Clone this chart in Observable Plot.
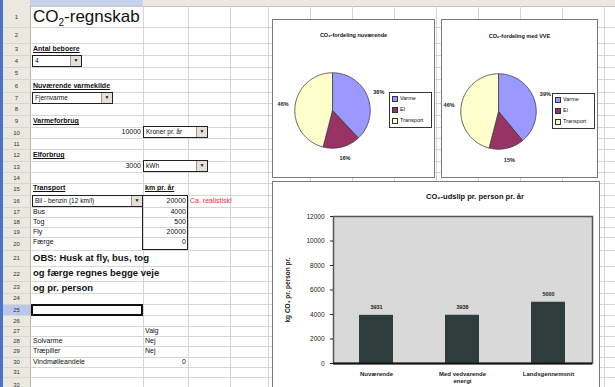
<!DOCTYPE html>
<html><head><meta charset="utf-8">
<script src="https://cdn.jsdelivr.net/npm/d3@7"></script>
<script src="https://cdn.jsdelivr.net/npm/@observablehq/plot@0.6"></script>
<style>
body{margin:0;background:#fff;font-family:"Liberation Sans",Arial,sans-serif;color:#111;}
#page{position:relative;width:615px;height:387px;overflow:hidden;background:#fff;}
.a{position:absolute;white-space:nowrap;}
.t{font-size:7px;line-height:12px;height:12px;}
.b{font-weight:bold;}
.u{text-decoration:underline;}
.dd{border:1.5px solid #222;background:#fff;box-sizing:border-box;font-size:6.5px;line-height:9px;padding-left:2px;}
.dd .btn{position:absolute;right:0;top:0;bottom:0;width:10px;background:#e4e2d8;border-left:1px solid #999;font-size:5px;text-align:center;line-height:9px;}
.box{background:#fff;border:1px solid #7a7a7a;box-sizing:border-box;}
.leg{border:1px solid #333;background:#fff;box-sizing:border-box;font-size:5.5px;line-height:11px;padding-left:2px;}
.sw{display:inline-block;width:4px;height:4px;border:0.6px solid #333;margin-right:2px;vertical-align:middle;}
</style></head><body><div id="page"></div>
<script>
// ---------- chart data ----------
const barCategories = ["Nuværende", "Med vedvarende\nenergi", "Landsgennemsnit"];
const barValues = [3931, 3938, 5000];
const yTicks = [0, 2000, 4000, 6000, 8000, 10000, 12000];
const pieLabels = ["Varme", "El", "Transport"];
const pie1Values = [38, 16, 46];
const pie2Values = [39, 15, 46];
const pieTitles = ["CO₂-fordeling nuværende", "CO₂-fordeling med VVE"];
const barTitle = "CO₂-udslip pr. person pr. år";
const yLabel = "kg CO₂ pr. person pr.";

const pieColorRange = ["#9999ff", "#993366", "#ffffcc"];
const page = document.getElementById("page");
function el(html){ const d=document.createElement("div"); d.innerHTML=html; const n=d.firstElementChild; page.appendChild(n); return n; }

// ---------- spreadsheet background ----------
const rowCenters = [17,37,49,61,72,86,98,108,121,132,143,155,166,177,188,201,212,222,232,242,258,273,288,298,309,320,331,341,351,362,372,382];
const bounds = [6];
for (let i=0;i<rowCenters.length-1;i++) bounds.push((rowCenters[i]+rowCenters[i+1])/2);
bounds.push(392);
el(`<div class="a" style="left:0;top:0;width:615px;height:6px;background:#ebe9df;border-bottom:1px solid #c9c6b8"></div>`);
el(`<div class="a" style="left:30px;top:0;width:113px;height:6px;background:#c5d3ef"></div>`);
el(`<div class="a" style="left:3px;top:6px;width:27px;height:390px;background:#ebe9df;border-right:1px solid #b9b6a8"></div>`);
el(`<div class="a" style="left:0;top:0;width:3px;height:387px;background:#4a74c8"></div>`);
bounds.forEach((b,i)=>{ if(i>0) el(`<div class="a" style="left:3px;top:${b}px;width:612px;height:1px;background:#d6d6d6"></div>`); });
[143,188,230,268,310,352,394,436,478,520,562,604].forEach(x=> el(`<div class="a" style="left:${x}px;top:6px;width:1px;height:381px;background:#d6d6d6"></div>`));
rowCenters.forEach((c,i)=>{
  const hi = i===24 ? "background:#b8c9ec;" : "";
  el(`<div class="a t" style="left:3px;top:${bounds[i]+1}px;width:27px;height:${bounds[i+1]-bounds[i]-1}px;line-height:${bounds[i+1]-bounds[i]-1}px;text-align:center;font-size:6px;color:#333;${hi}">${i+1}</div>`);
});
function txt(row, x, s, cls="", extra=""){ const c=rowCenters[row-1]; el(`<div class="a t ${cls}" style="left:${x}px;top:${c-6}px;${extra}">${s}</div>`); }
function rtxt(row, xr, s, cls="", extra=""){ const c=rowCenters[row-1]; el(`<div class="a t ${cls}" style="left:${xr-60}px;width:58px;text-align:right;top:${c-6}px;${extra}">${s}</div>`); }
function dd(row, x0, x1, s){ const c=rowCenters[row-1]; el(`<div class="a dd" style="left:${x0}px;top:${c-6}px;width:${x1-x0}px;height:12px;">${s}<div class="btn">▼</div></div>`); }

txt(1, 33, "CO<sub style='font-size:10px'>2</sub>-regnskab", "", "font-size:17px;line-height:22px;height:22px;top:6px;");
txt(3, 33, "Antal beboere", "b u");
dd(4, 32, 82, "4");
txt(6, 33, "Nuværende varmekilde", "b u");
dd(7, 32, 113, "Fjernvarme");
txt(9, 33, "Varmeforbrug", "b u");
rtxt(10, 143, "10000");
dd(10, 143, 208, "Kroner pr. år");
txt(12, 33, "Elforbrug", "b u");
rtxt(13, 143, "3000");
dd(13, 143, 208, "kWh");
txt(15, 33, "Transport", "b u");
txt(15, 145, "km pr. år", "b u");
dd(16, 32, 143, "Bil - benzin (12 km/l)");
rtxt(16, 188, "20000");
txt(16, 190, "Ca. realistisk!", "", "color:#e03030;");
txt(17, 33, "Bus"); rtxt(17, 188, "4000");
txt(18, 33, "Tog"); rtxt(18, 188, "500");
txt(19, 33, "Fly"); rtxt(19, 188, "20000");
txt(20, 33, "Færge"); rtxt(20, 188, "0");
el(`<div class="a" style="left:142px;top:${bounds[15]}px;width:46px;height:${bounds[20]-bounds[15]}px;border:1.5px solid #222;box-sizing:border-box"></div>`);
txt(21, 33, "OBS: Husk at fly, bus, tog", "b", "font-size:9.5px;");
txt(22, 33, "og færge regnes begge veje", "b", "font-size:9.5px;");
txt(23, 33, "og pr. person", "b", "font-size:9.5px;");
el(`<div class="a" style="left:31px;top:${bounds[24]}px;width:112px;height:${bounds[25]-bounds[24]+1}px;border:2px solid #111;box-sizing:border-box;background:#fff"></div>`);
txt(27, 145, "Valg");
txt(28, 33, "Solvarme"); txt(28, 145, "Nej");
txt(29, 33, "Træpiller"); txt(29, 145, "Nej");
txt(30, 33, "Vindmølleandele"); rtxt(30, 188, "0");

// ---------- pie charts ----------
function piePlot(values){
  const total = d3.sum(values);
  const pts = [], lbls = [];
  let a = 0;
  values.forEach((v,i)=>{
    const a0 = a, a1 = a + v/total*2*Math.PI;
    const n = Math.max(2, Math.ceil((a1-a0)/0.03));
    pts.push({name:pieLabels[i], x:0, y:0});
    for(let k=0;k<=n;k++){ const t=a0+(a1-a0)*k/n; pts.push({name:pieLabels[i], x:Math.sin(t), y:Math.cos(t)}); }
    pts.push({name:pieLabels[i], x:0, y:0});
    const m = (a0+a1)/2;
    lbls.push({x:1.32*Math.sin(m), y:1.32*Math.cos(m), t:`${v}%`});
    a = a1;
  });
  const D = 1.75;
  return Plot.plot({
    width:132, height:132, margin:0,
    style:{background:"transparent", fontFamily:"Liberation Sans, Arial, sans-serif"},
    x:{domain:[-D,D], axis:null}, y:{domain:[-D,D], axis:null},
    color:{domain:pieLabels, range:pieColorRange},
    marks:[
      Plot.line(pts, {x:"x", y:"y", z:"name", fill:"name", stroke:"#3b3b3b", strokeWidth:0.8}),
      Plot.text(lbls, {x:"x", y:"y", text:"t", fontSize:5.5, fontWeight:"bold", fill:"#222"})
    ]
  });
}
function pieBox(x0, x1, title, values, cx, cy, r, legX, legY){
  el(`<div class="a box" style="left:${x0}px;top:19px;width:${x1-x0}px;height:159px;"></div>`);
  el(`<div class="a b" style="left:${x0}px;width:${x1-x0}px;top:${cy-78}px;text-align:center;font-size:5.5px;">${title}</div>`);
  const svg = piePlot(values);
  const w = 132;
  const wrap = el(`<div class="a" style="left:${cx-w/2}px;top:${cy-w/2}px;width:${w}px;height:${w}px"></div>`);
  wrap.appendChild(svg);
  el(`<div class="a leg" style="left:${legX}px;top:${legY}px;width:43px;height:36px;">${pieLabels.map((l,i)=>`<div style="height:11px"><span class="sw" style="background:${pieColorRange[i]}"></span>${l}</div>`).join("")}</div>`);
}
pieBox(272, 435, pieTitles[0], pie1Values, 332, 110, 37.5, 389, 92);
pieBox(441, 598, pieTitles[1], pie2Values, 498, 111, 37.5, 552, 93);

// ---------- bar chart ----------
el(`<div class="a box" style="left:272px;top:181px;width:328px;height:215px;"></div>`);
el(`<div class="a b" style="left:375px;width:200px;top:192px;text-align:center;font-size:7.5px;">${barTitle}</div>`);
const barData = barCategories.map((c,i)=>({cat:c, v:barValues[i]}));
const bar = Plot.plot({
  width:328, height:187, marginLeft:61, marginRight:8, marginTop:16, marginBottom:24,
  style:{background:"transparent", fontFamily:"Liberation Sans, Arial, sans-serif", fontSize:"6.5px", color:"#222"},
  x:{domain:barCategories, paddingInner:0.6, paddingOuter:0.3},
  y:{domain:[0,12000]},
  marks:[
    Plot.frame({fill:"#d9d9d9", stroke:null}),
    Plot.barY(barData, {x:"cat", y:"v", fill:"#2f3c3c"}),
    Plot.text(barData, {x:"cat", y:"v", text:d=>String(d.v), dy:-8, fontSize:5.5, fontWeight:"bold", fill:"#222"}),
    Plot.frame({stroke:"#555", strokeWidth:1.5}),
    Plot.ruleY([0], {stroke:"#111", strokeWidth:2}),
    Plot.axisY(yTicks, {tickFormat:d=>String(d), tickSize:3, fontSize:6.5, label:yLabel, labelAnchor:"center", labelOffset:48, labelArrow:"none"}),
    Plot.axisX({tickSize:0, tickPadding:7, fontSize:6, fontWeight:"bold", label:null, lineHeight:1.2})
  ]
});
const bw = el(`<div class="a" style="left:272px;top:200px;width:328px;height:187px"></div>`);
bw.appendChild(bar);
bar.querySelectorAll("g[aria-label='y-axis label'] text").forEach(t=>{t.style.fontWeight="bold"; t.style.fontSize="6.5px";});
</script></body></html>
